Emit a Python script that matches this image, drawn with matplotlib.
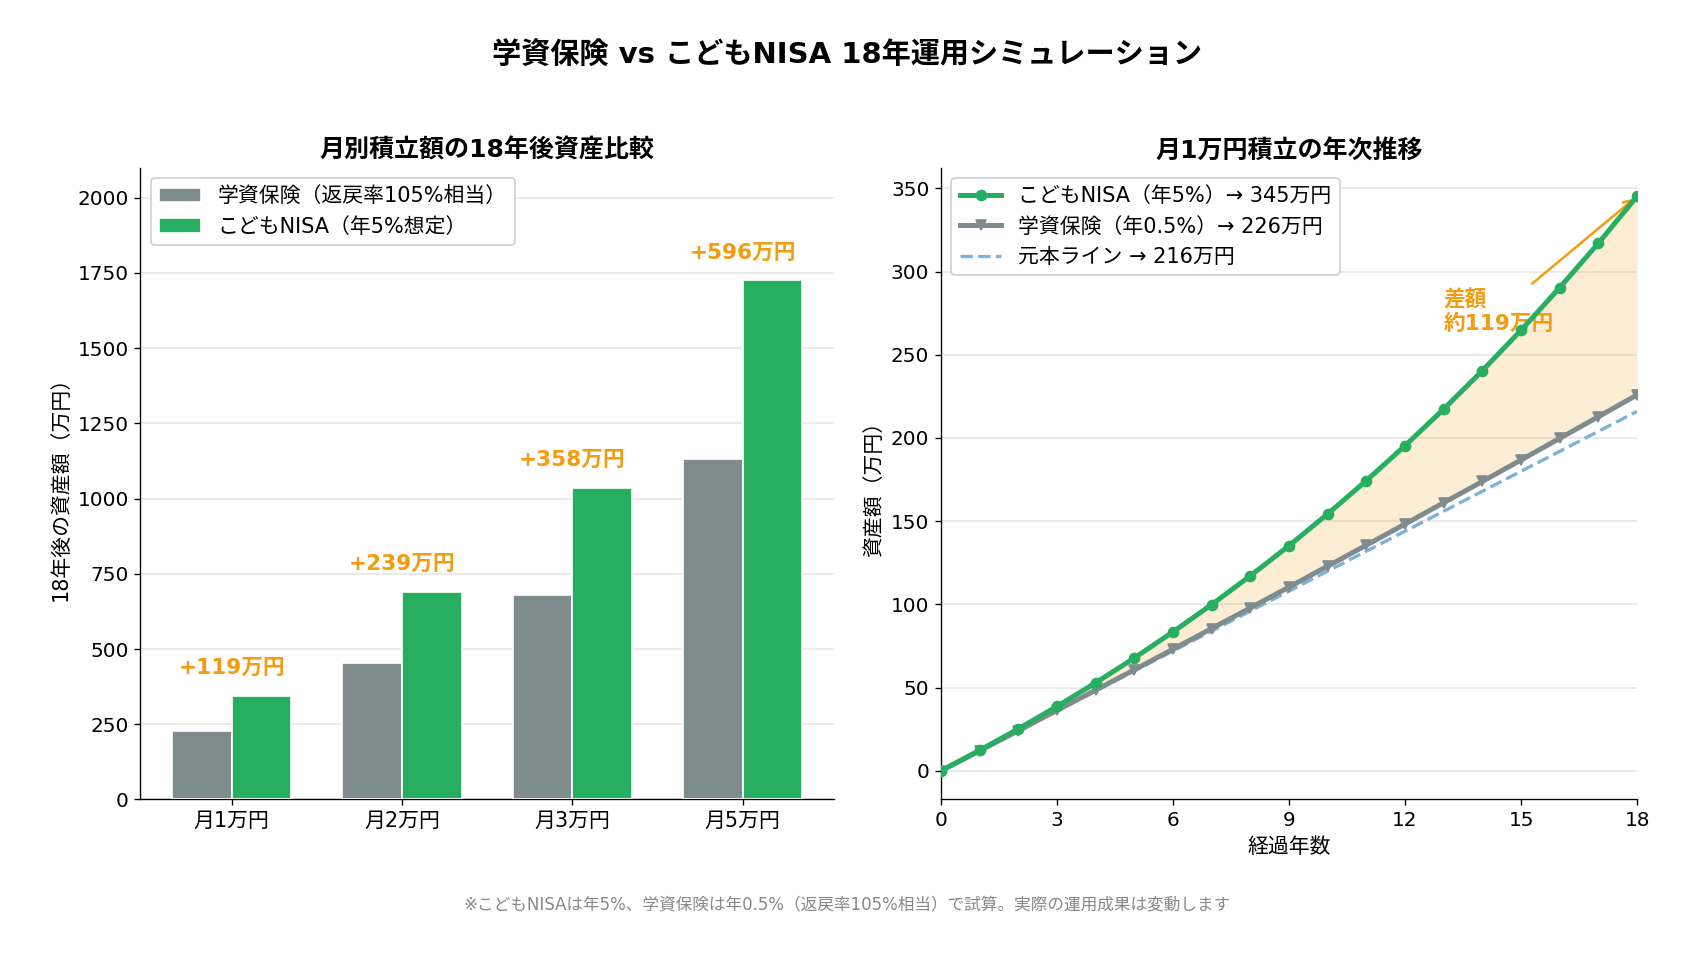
import matplotlib
matplotlib.use("Agg")
import matplotlib.pyplot as plt
import numpy as np

plt.rcParams['font.family'] = ['DejaVu Sans', 'Noto Sans CJK JP']

# ---- data ----
categories = ["月1万円", "月2万円", "月3万円", "月5万円"]
gakushi_final = [226, 452, 678, 1130]
nisa_final = [345, 691, 1036, 1726]
diff_labels = ["+119万円", "+239万円", "+358万円", "+596万円"]

years = [0, 1, 2, 3, 4, 5, 6, 7, 8, 9, 10, 11, 12, 13, 14, 15, 16, 17, 18]
nisa_yearly = [0, 12.3, 25.2, 38.7, 52.9, 67.8, 83.5, 99.9, 117.2, 135.3,
               154.4, 174.4, 195.4, 217.4, 240.5, 264.8, 290.4, 317.1, 345.3]
ins_yearly = [0, 12.0, 24.1, 36.3, 48.5, 60.7, 73.1, 85.5, 97.9, 110.4,
              123.0, 135.6, 148.3, 161.1, 173.9, 186.8, 199.8, 212.8, 225.9]
principal = [0, 12, 24, 36, 48, 60, 72, 84, 96, 108,
             120, 132, 144, 156, 168, 180, 192, 204, 216]

GREEN = "#27ae60"
GRAY = "#7f8c8d"
ORANGE = "#f39c12"
BLUE = "#7fb3d5"

fig = plt.figure(figsize=(1694/120, 960/120), dpi=120)
ax1 = fig.add_axes([0.0829, 0.1672, 0.4094, 0.6583])
ax2 = fig.add_axes([0.5555, 0.1672, 0.4109, 0.6583])

fig.text(0.5, 0.9417, "学資保険 vs こどもNISA 18年運用シミュレーション",
         ha="center", va="center", fontsize=17.5, fontweight="bold")

# ---- left: bars ----
x = np.arange(len(categories))
w = 0.35
ax1.bar(x - w/2, gakushi_final, w, color=GRAY, edgecolor="white", linewidth=1,
        label="学資保険（返戻率105%相当）", zorder=3)
ax1.bar(x + w/2, nisa_final, w, color=GREEN, edgecolor="white", linewidth=1,
        label="こどもNISA（年5%想定）", zorder=3)
for i, (v, t) in enumerate(zip(nisa_final, diff_labels)):
    ax1.text(i, v + 58, t, ha="center", va="bottom", color=ORANGE,
             fontsize=13, fontweight="bold")
ax1.set_xticks(x)
ax1.set_xticklabels(categories, fontsize=12.5)
ax1.set_ylim(0, 2100)
ax1.set_yticks([0, 250, 500, 750, 1000, 1250, 1500, 1750, 2000])
ax1.tick_params(axis="y", labelsize=12)
ax1.set_ylabel("18年後の資産額（万円）", fontsize=12.5)
ax1.set_title("月別積立額の18年後資産比較", fontsize=15, fontweight="bold")
ax1.grid(axis="y", color="#e6e6e6", linewidth=1, zorder=0)
ax1.set_axisbelow(True)
for s in ["top", "right"]:
    ax1.spines[s].set_visible(False)
ax1.legend(loc="upper left", fontsize=12.5, framealpha=1, edgecolor="#d0d0d0")

# ---- right: lines ----
ax2.fill_between(years, ins_yearly, nisa_yearly, color=ORANGE, alpha=0.18,
                 linewidth=0, zorder=1)
ax2.plot(years, nisa_yearly, color=GREEN, linewidth=3, marker="o", markersize=6,
         label="こどもNISA（年5%）→ 345万円", zorder=4)
ax2.plot(years, ins_yearly, color=GRAY, linewidth=3, marker="v", markersize=6,
         label="学資保険（年0.5%）→ 226万円", zorder=3)
ax2.plot(years, principal, color=BLUE, linewidth=2, linestyle="--",
         label="元本ライン → 216万円", zorder=2)
ax2.annotate("差額\n約119万円", xy=(18, nisa_yearly[-1]), xytext=(13, 265),
             color=ORANGE, fontsize=13, fontweight="bold",
             arrowprops=dict(arrowstyle="->", color=ORANGE, lw=1.5))
ax2.set_xlim(0, 18)
ax2.set_xticks([0, 3, 6, 9, 12, 15, 18])
ax2.set_yticks([0, 50, 100, 150, 200, 250, 300, 350])
ax2.tick_params(labelsize=12)
ax2.set_xlabel("経過年数", fontsize=12.5)
ax2.set_ylabel("資産額（万円）", fontsize=12.5)
ax2.set_title("月1万円積立の年次推移", fontsize=15, fontweight="bold")
ax2.grid(axis="y", color="#e6e6e6", linewidth=1, zorder=0)
ax2.set_axisbelow(True)
for s in ["top", "right"]:
    ax2.spines[s].set_visible(False)
ax2.legend(loc="upper left", fontsize=12.5, framealpha=1, edgecolor="#d0d0d0")

fig.text(0.5, 0.058,
         "※こどもNISAは年5%、学資保険は年0.5%（返戻率105%相当）で試算。実際の運用成果は変動します",
         ha="center", va="center", fontsize=10, color="#888888")

fig.savefig("out.png", dpi=120)
